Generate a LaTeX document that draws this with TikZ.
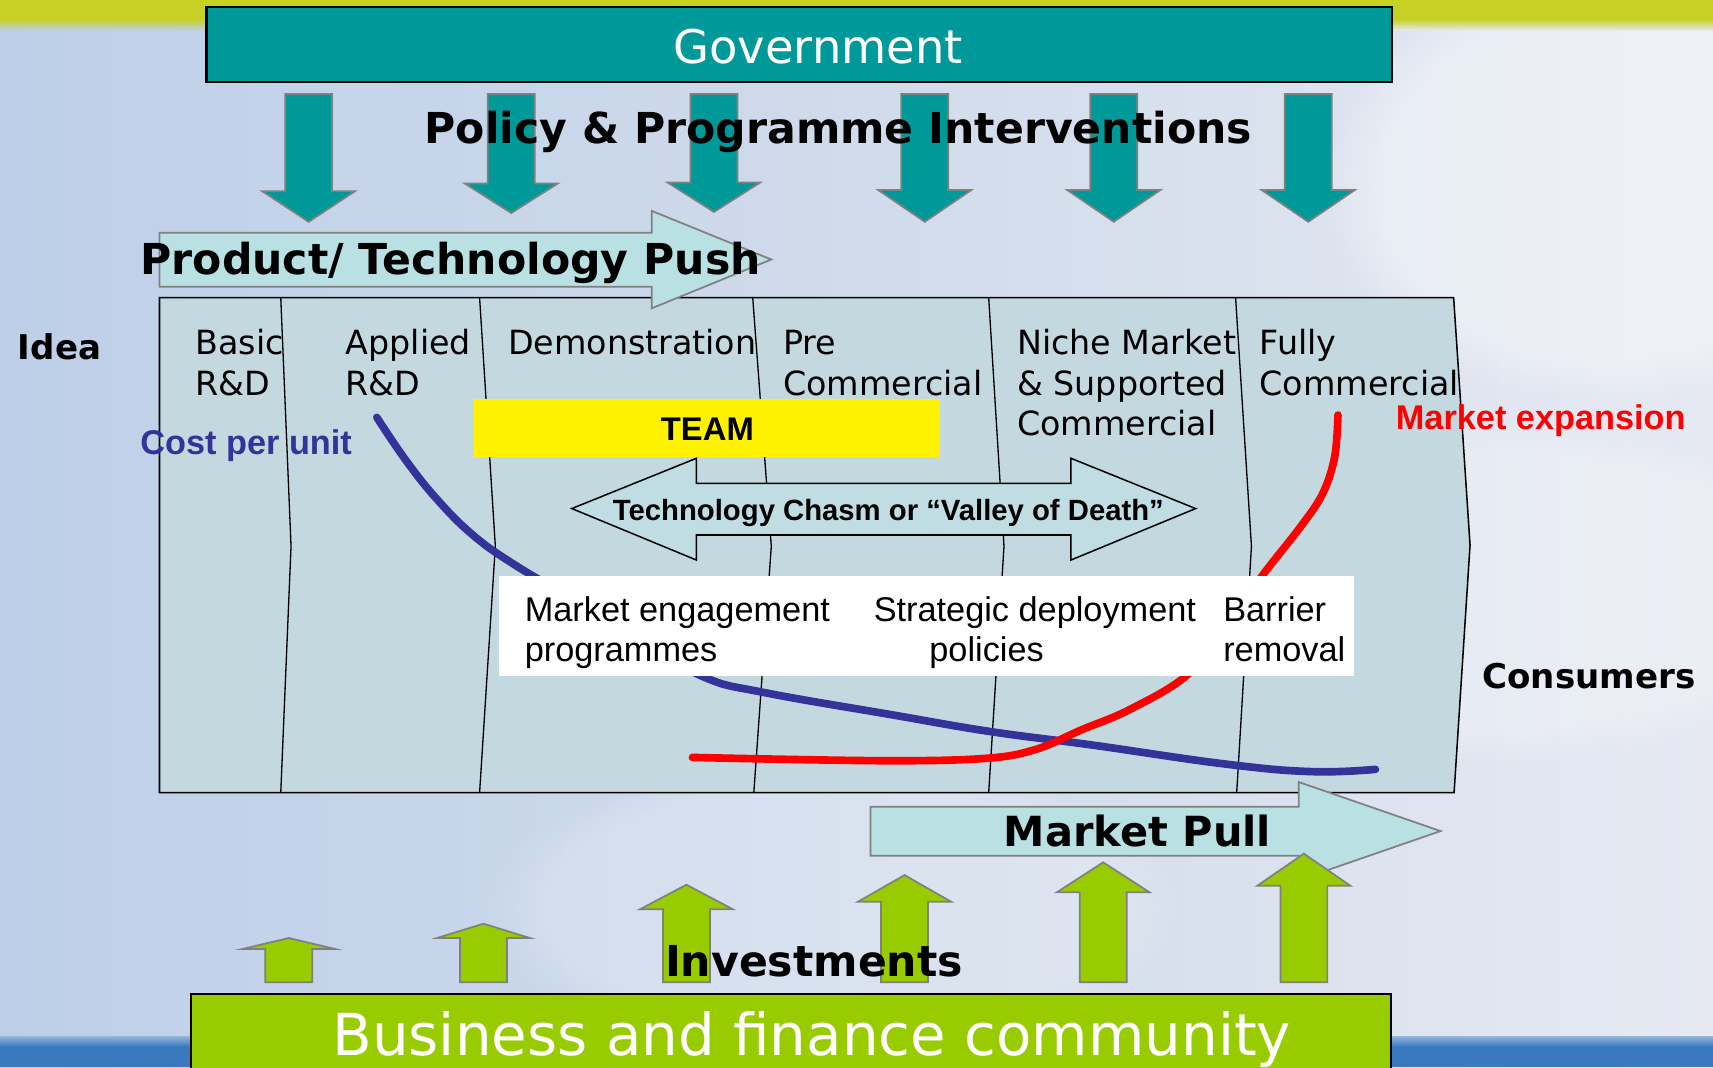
\documentclass[tikz,border=0pt]{standalone}
\usepackage{fontspec}
\setmainfont{DejaVu Sans}
\newfontfamily\arialf{Liberation Sans}
\usetikzlibrary{fadings}
\definecolor{skyL}{HTML}{BDCFE8}
\definecolor{skyM}{HTML}{D0DBEB}
\definecolor{skyR}{HTML}{E6E9F2}
\definecolor{bandY}{HTML}{C6D124}
\definecolor{bandB}{HTML}{3A79BD}
\definecolor{bandBL}{HTML}{8DB2DA}
\definecolor{govteal}{HTML}{009999}
\definecolor{bizgreen}{HTML}{99CC00}
\definecolor{stagefill}{HTML}{C4D8E0}
\definecolor{pushfill}{HTML}{B9E0E3}
\definecolor{arrgray}{HTML}{808080}
\definecolor{costblue}{HTML}{333399}
\definecolor{chasmfill}{HTML}{BFDDE2}
\tikzset{
  lbl/.style={inner sep=0pt, outer sep=0pt, anchor=base west},
  stagetxt/.style={lbl, font=\fontsize{15.25}{18}\selectfont},
  titletxt/.style={lbl, font=\bfseries\fontsize{19.5}{23}\selectfont},
  sidetxt/.style={lbl, font=\bfseries\fontsize{15.6}{18}\selectfont},
  arialbold/.style={lbl, font=\arialf\bfseries\fontsize{15.7}{18}\selectfont},
  boxtxt/.style={lbl, font=\arialf\fontsize{15.7}{18}\selectfont},
  downarr/.style={fill=govteal, draw=arrgray, line width=0.8pt},
  uparr/.style={fill=bizgreen, draw=arrgray, line width=0.8pt},
  bigarrow/.style={fill=pushfill, draw=arrgray, line width=0.8pt},
  divider/.style={draw=black, line width=0.6pt},
  curveline/.style={line width=3.5pt, line cap=round, line join=round},
  cloud/.style={fill=white, path fading=circle with fuzzy edge 20 percent},
}
\newcommand\mkdown[3]{%
  \path[downarr] (#1-21.5,86) -- (#1+21.5,86) -- (#1+21.5,#2) -- (#1+42.5,#2)
    -- (#1,#3) -- (#1-42.5,#2) -- (#1-21.5,#2) -- cycle;}
\newcommand\mkup[3]{%
  \path[uparr] (#1-21.5,899) -- (#1-21.5,#3) -- (#1-42.5,#3) -- (#1,#2)
    -- (#1+42.5,#3) -- (#1+21.5,#3) -- (#1+21.5,899) -- cycle;}
\begin{document}
\begin{tikzpicture}[x=0.5pt, y=-0.5pt]
\useasboundingbox (0,0) rectangle (1568,976.7);
% background sky
\shade[left color=skyL, right color=skyR, middle color=skyM] (0,0) rectangle (1568,976.7);
\fill[cloud, opacity=0.35] (1470,170) ellipse (260 and 200);
\fill[cloud, opacity=0.25] (1380,540) ellipse (300 and 160);
\fill[cloud, opacity=0.2] (760,830) ellipse (320 and 140);
% top band
\fill[bandY] (0,0) rectangle (1568,18);
\shade[top color=bandY, bottom color=skyL] (0,17.5) rectangle (200,28);
\shade[top color=bandY, bottom color=skyR] (1260,17.5) rectangle (1568,28);
% bottom band
\shade[top color=bandBL, bottom color=bandB] (0,949) rectangle (1568,958);
\fill[bandB] (0,957.5) rectangle (1568,976.7);
% government
\filldraw[fill=govteal, draw=black, line width=1pt] (189,6.5) rectangle (1274,75);
\node[inner sep=0pt, anchor=base, text=white, font=\fontsize{21.25}{25}\selectfont] (gov) at (749,58) {Government};
% down arrows
\mkdown{282.5}{175}{203}
\mkdown{468}{168}{195}
\mkdown{653.5}{167}{194}
\mkdown{846.5}{174}{203}
\mkdown{1019.5}{174}{203}
\mkdown{1197.5}{174}{203}
\node[titletxt] (policy) at (388.8,131.2) {Policy \& Programme Interventions};
% stage box
\filldraw[fill=stagefill, draw=black, line width=0.7pt] (146,272.5) -- (1330.6,272.5) -- (1345.6,499) -- (1331,725.5) -- (146,725.5) -- cycle;
\draw[divider] (257,272.5) -- (266.4,500) -- (257,725.5);
\draw[divider] (439,272.5) -- (453.4,500) -- (439,725.5);
\draw[divider] (689,272.5) -- (706,500) -- (690,725.5);
\draw[divider] (905,272.5) -- (919,500) -- (905,725.5);
\draw[divider] (1131,272.5) -- (1145.5,500) -- (1132,725.5);
% push arrow
\path[bigarrow] (146,213) -- (596.5,213) -- (596.5,193) -- (706,237.5) -- (596.5,282.2) -- (596.5,262.5) -- (146,262.5) -- cycle;
\node[titletxt] (push) at (128.7,251.7) {Product/ Technology Push};
% curves
\draw[curveline, draw=costblue] plot[smooth, tension=0.7] coordinates {(344.9,382) (372,422) (400,457) (432,489) (468,515) (525,549) (590,588) (645,620) (700,634) (817.7,654.5) (907,669.7) (1000,682) (1122,699.4) (1201,706.3) (1259,704.2)};
\draw[curveline, draw=red] plot[smooth, tension=0.6] coordinates {(633.8,693.3) (807,696.3) (901.6,694.2) (948,686) (990,668) (1033,650) (1085.6,618.8) (1122,575) (1154.8,527.8) (1190.6,482) (1210.8,451.6) (1221.7,418) (1224.7,379.9)};
% TEAM
\fill[yellow] (433.8,365.5) rectangle (860.6,418);
\node[inner sep=0pt, anchor=base, font=\arialf\bfseries\fontsize{15}{18}\selectfont] (team) at (647.5,402.8) {TEAM};
% chasm double arrow
\filldraw[fill=chasmfill, draw=black, line width=0.7pt] (523.4,465.5) -- (637.4,419.5) -- (637.4,442.4) -- (980.3,442.4) -- (980.3,419.5) -- (1094.4,465.5) -- (980.3,512.6) -- (980.3,489.7) -- (637.4,489.7) -- (637.4,512.6) -- cycle;
\node[lbl, font=\arialf\bfseries\fontsize{13.4}{16}\selectfont] (chasm) at (561,476.6) {Technology Chasm or “Valley of Death”};
% white box
\fill[white] (456.8,527.2) rectangle (1239,618.8);
\node[boxtxt] (me1) at (480.4,569) {Market engagement};
\node[boxtxt] (me2) at (480.4,605.6) {programmes};
\node[boxtxt] (sd1) at (799.8,569) {Strategic deployment};
\node[boxtxt] (sd2) at (850.7,605.6) {policies};
\node[boxtxt] (br1) at (1119.7,569) {Barrier};
\node[boxtxt] (br2) at (1119.7,605.6) {removal};
% stage labels
\node[stagetxt] (basic1) at (179,324.3) {Basic};
\node[stagetxt] (basic2) at (179,361.6) {R\&D};
\node[stagetxt] (appl1) at (316.4,324.3) {Applied};
\node[stagetxt] (appl2) at (316.4,361.6) {R\&D};
\node[stagetxt] (demo) at (465,324.3) {Demonstration};
\node[stagetxt] (pre1) at (717,324.3) {Pre};
\node[stagetxt] (pre2) at (717,361.6) {Commercial};
\node[stagetxt] (niche1) at (931,324.3) {Niche Market};
\node[stagetxt] (niche2) at (931,361.6) {\& Supported};
\node[stagetxt] (niche3) at (931,398.9) {Commercial};
\node[stagetxt] (full1) at (1153,324.3) {Fully};
\node[stagetxt] (full2) at (1153,361.6) {Commercial};
% market pull
\path[bigarrow] (796.7,738.4) -- (1188.7,738.4) -- (1188.7,715.8) -- (1318.6,760.7) -- (1188.7,805.6) -- (1188.7,783.2) -- (796.7,783.2) -- cycle;
\node[lbl, font=\bfseries\fontsize{19}{23}\selectfont] (pull) at (919,774.4) {Market Pull};
% up arrows
\mkup{264.3}{858.6}{868.7}
\mkup{442.5}{845.5}{858.6}
\mkup{628.3}{809.8}{832.3}
\mkup{828}{801}{825.3}
\mkup{1009.8}{789.3}{816.8}
\mkup{1193.5}{781.4}{810.7}
\node[titletxt] (invest) at (608.8,894) {Investments};
% business box
\filldraw[fill=bizgreen, draw=black, line width=1pt] (174.7,909.6) rectangle (1273.4,990);
\node[inner sep=0pt, anchor=base, text=white, font=\fontsize{26.5}{30}\selectfont] (biz) at (743,965.7) {Business and finance community};
% side labels
\node[sidetxt] (idea) at (16.4,328.9) {Idea};
\node[arialbold, text=costblue] (cost) at (128.5,415.6) {Cost per unit};
\node[arialbold, text=red] (mexp) at (1277.7,393) {Market expansion};
\node[sidetxt] (cons) at (1357,630) {Consumers};
\end{tikzpicture}
\end{document}
